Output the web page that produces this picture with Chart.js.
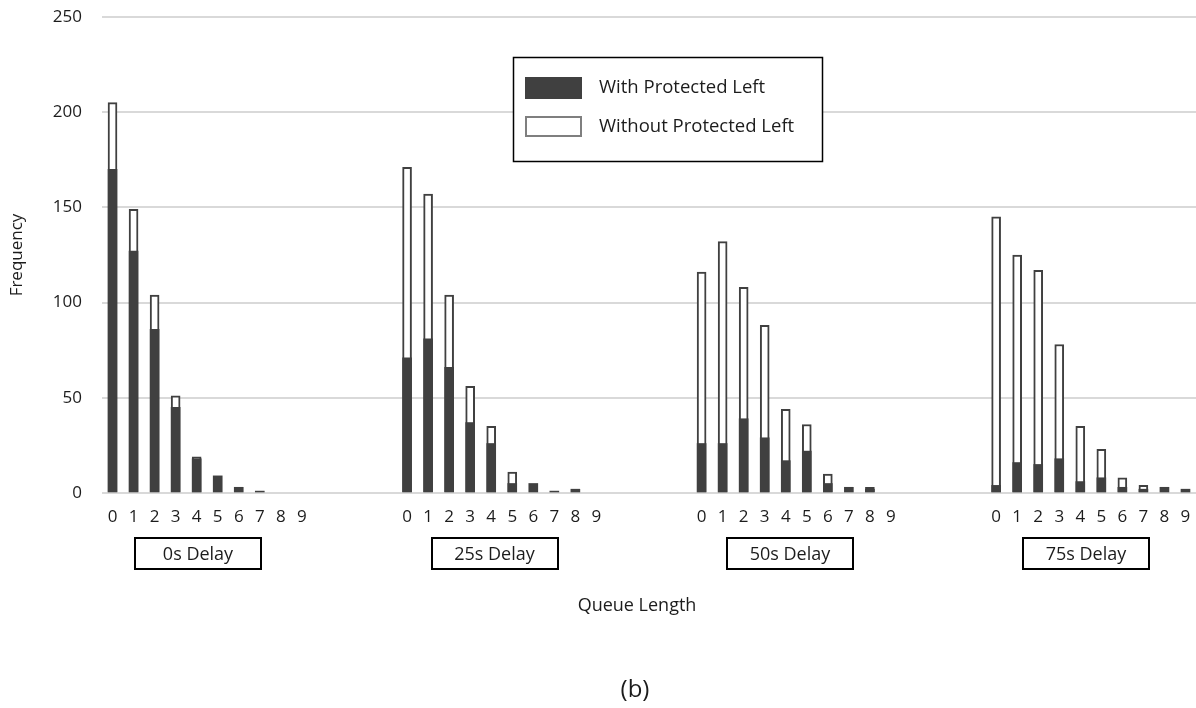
<!DOCTYPE html>
<html>
<head>
<meta charset="utf-8">
<script src="https://cdn.jsdelivr.net/npm/chart.js@4"></script>
<style>
  html, body { margin: 0; padding: 0; background: #ffffff; }
  #wrap { width: 1196px; height: 708px; position: relative; }
</style>
</head>
<body>
<div id="wrap"><canvas id="queueChart"></canvas></div>
<script>
// Categories
const queueLengths = ["0", "1", "2", "3", "4", "5", "6", "7", "8", "9"];
const delayGroups = ["0s Delay", "25s Delay", "50s Delay", "75s Delay"];
const gapSize = 4; // empty slots between delay groups

// Frequencies, with protected left turn
const withProtected0s  = [170, 127, 86, 45, 18, 9, 3, 1, 0, 0];
const withProtected25s = [71, 81, 66, 37, 26, 5, 5, 1, 2, 0];
const withProtected50s = [26, 26, 39, 29, 17, 22, 5, 3, 2, 0];
const withProtected75s = [4, 16, 15, 18, 6, 8, 3, 2, 3, 2];

// Frequencies, without protected left turn
const withoutProtected0s  = [205, 149, 104, 51, 19, 0, 0, 0, 0, 0];
const withoutProtected25s = [171, 157, 104, 56, 35, 11, 0, 0, 0, 0];
const withoutProtected50s = [116, 132, 108, 88, 44, 36, 10, 0, 3, 0];
const withoutProtected75s = [145, 125, 117, 78, 35, 23, 8, 4, 0, 0];

const yTicks = [0, 50, 100, 150, 200, 250];

/**
 * Helper: join the four delay groups into one category axis with blank gaps
 */
function joinGroups(groups) {
  const out = [];
  groups.forEach((g, i) => {
    g.forEach(v => out.push(v === 0 ? null : v));
    if (i < groups.length - 1) {
      for (let k = 0; k < gapSize; k++) out.push(null);
    }
  });
  return out;
}

const labels = [];
delayGroups.forEach((_, i) => {
  labels.push(...queueLengths);
  if (i < delayGroups.length - 1) {
    for (let k = 0; k < gapSize; k++) labels.push("");
  }
});

const withData = joinGroups([withProtected0s, withProtected25s, withProtected50s, withProtected75s]);
const withoutData = joinGroups([withoutProtected0s, withoutProtected25s, withoutProtected50s, withoutProtected75s]);

const FONT = "'Open Sans', 'DejaVu Sans', sans-serif";
const DARK = "#404040";
const TEXT = "#1c1c1c";

/**
 * Plugin: delay group boxes, legend box, x title and figure caption
 */
const figureExtras = {
  id: "figureExtras",
  afterDraw(chart) {
    const { ctx } = chart;
    ctx.save();

    // group label boxes (hand-placed text boxes under each group)
    const boxCenters = [198, 494.5, 790, 1086];
    ctx.font = "18px " + FONT;
    ctx.textAlign = "center";
    ctx.textBaseline = "middle";
    delayGroups.forEach((name, i) => {
      const cx = boxCenters[i];
      const w = 126, h = 31, top = 538;
      ctx.lineWidth = 2;
      ctx.strokeStyle = "#000000";
      ctx.strokeRect(Math.round(cx - w / 2), top, w, h);
      ctx.fillStyle = TEXT;
      ctx.fillText(name, cx, top + h / 2 + 1);
    });

    // x axis title
    ctx.font = "18px " + FONT;
    ctx.fillText("Queue Length", 637, 606);

    // caption
    ctx.font = "24px " + FONT;
    ctx.fillText("(b)", 635, 690);

    // legend
    ctx.lineWidth = 1.5;
    ctx.strokeStyle = "#000000";
    ctx.fillStyle = "#ffffff";
    ctx.fillRect(513, 57, 309, 104);
    ctx.strokeRect(513.5, 57.5, 309, 104);

    ctx.fillStyle = DARK;
    ctx.fillRect(525, 77, 57, 22);
    ctx.lineWidth = 2;
    ctx.strokeStyle = "#7f7f7f";
    ctx.strokeRect(526, 117, 55, 19);

    ctx.font = "18.5px " + FONT;
    ctx.textAlign = "left";
    ctx.fillStyle = TEXT;
    ctx.fillText("With Protected Left", 599, 88);
    ctx.fillText("Without Protected Left", 599, 127);

    ctx.restore();
  }
};

const ctx = document.getElementById("queueChart").getContext("2d");

new Chart(ctx, {
  type: "bar",
  data: {
    labels,
    datasets: [
      {
        label: "With Protected Left",
        data: withData,
        backgroundColor: DARK,
        borderWidth: 0,
        barThickness: 9,
      },
      {
        label: "Without Protected Left",
        data: withoutData,
        backgroundColor: "#ffffff",
        borderColor: DARK,
        borderWidth: 2,
        borderSkipped: false,
        barThickness: 9,
      },
    ],
  },
  options: {
    responsive: true,
    maintainAspectRatio: false,
    animation: false,
    layout: { padding: { top: 17, right: 0, bottom: 0, left: 0 } },
    plugins: {
      legend: { display: false },
      tooltip: { enabled: false },
    },
    scales: {
      x: {
        stacked: true,
        grid: { display: false },
        border: { display: false },
        ticks: {
          color: TEXT,
          font: { family: FONT, size: 17 },
          padding: 6,
          autoSkip: false,
          maxRotation: 0,
        },
        afterFit: (scale) => {
          scale.height = 215;
          scale.paddingLeft = 0;
          scale.paddingRight = 0;
        },
      },
      y: {
        stacked: false,
        min: 0,
        max: 250,
        afterBuildTicks: (scale) => { scale.ticks = yTicks.map(v => ({ value: v })); },
        grid: { color: "#d9d9d9", lineWidth: 2, drawTicks: false },
        border: { display: false },
        ticks: {
          color: TEXT,
          font: { family: FONT, size: 17 },
          padding: 20,
        },
        title: {
          display: true,
          text: "Frequency",
          color: TEXT,
          font: { family: FONT, size: 17 },
          padding: { top: 7, bottom: 0 },
        },
        afterFit: (scale) => {
          scale.width = 102;
          scale.paddingTop = 0;
          scale.paddingBottom = 0;
        },
      },
    },
  },
  plugins: [figureExtras],
});
</script>
</body>
</html>
